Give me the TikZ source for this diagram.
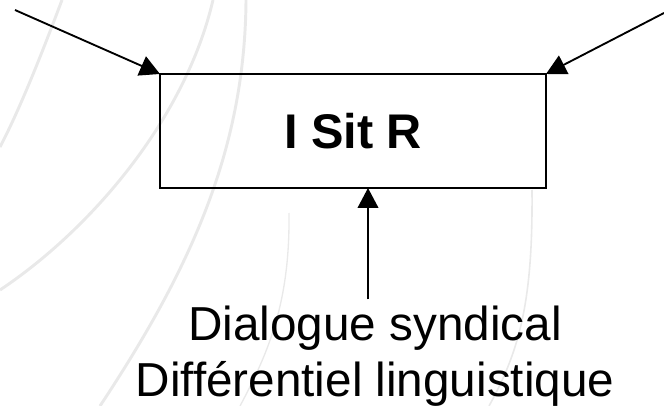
\documentclass[tikz,border=0pt]{standalone}
\usepackage{fontspec}
\setmainfont{Liberation Sans}
\usetikzlibrary{positioning}
\usetikzlibrary{arrows.meta}

\definecolor{arcgray}{RGB}{233,233,233}

\begin{document}
\begin{tikzpicture}[
                x=0.75pt, y=-0.75pt,
                node distance=88pt,
                thick,
                boxnode/.style={
                        draw,
                        line width=1.5pt,
                        minimum width=289.5pt,
                        minimum height=85.5pt,
                        outer sep=0pt,
                        font=\fontsize{36.5}{42}\selectfont\bfseries
                    },
                textnode/.style={
                        draw=none,
                        align=center,
                        inner sep=0pt,
                        font=\fontsize{35.75}{42}\selectfont
                    },
                arcline/.style={
                        draw=arcgray,
                        line width=2.2pt
                    },
                flow/.style={
                        -{Triangle[length=15pt,width=15.5pt]},
                        line width=1.4pt
                    }
            ]

            \useasboundingbox (0,0) rectangle (664,406);

            % Faint arcs in the background
            \draw[arcline] (62,0) .. controls (45,45) and (22,105) .. (0,147);
            \draw[arcline] (213,0) .. controls (185,120) and (90,230) .. (0,290);
            \draw[arcline] (246,0) .. controls (245,150) and (190,270) .. (100,406);
            \draw[arcline, line width=1pt] (289,213) .. controls (290,300) and (270,350) .. (240,406);
            \draw[arcline, line width=1.2pt] (532,190) .. controls (533,300) and (520,350) .. (489,406);

            % Box and the text under it
            \node[boxnode] (sitr) at (353,131) {I Sit R};
            \node[textnode, below=of sitr, xshift=16.5pt] (dia) {Dialogue syndical\\Différentiel linguistique};

            % Free ends of the arrows
            \coordinate (inleft) at (15,10);
            \coordinate (inright) at (664,13);
            \coordinate (foot) at ([xshift=-5.25pt, yshift=4.5pt]dia.north);

            % Arrows into the box
            \draw[flow] (inleft) -- (sitr.north west);
            \draw[flow] (inright) -- (sitr.north east);
            \draw[flow] (foot) -- (foot |- sitr.south);

        \end{tikzpicture}
\end{document}
